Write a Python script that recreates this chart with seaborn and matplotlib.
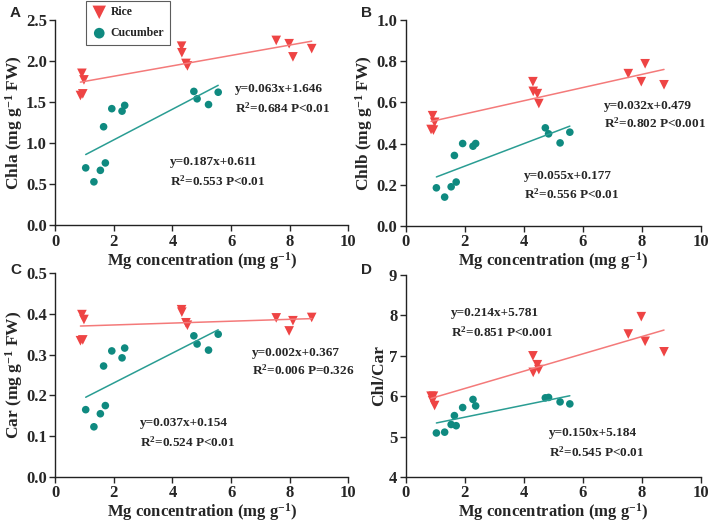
import numpy as np
import pandas as pd
import matplotlib
matplotlib.use("Agg")
import matplotlib.pyplot as plt
import seaborn as sns

sns.set_style("ticks")
plt.rcParams["font.family"] = ["Liberation Serif", "DejaVu Serif"]
plt.rcParams["font.weight"] = "bold"
plt.rcParams["mathtext.fontset"] = "custom"
plt.rcParams["mathtext.rm"] = "Liberation Serif:bold"
plt.rcParams["mathtext.bf"] = "Liberation Serif:bold"
plt.rcParams["mathtext.default"] = "rm"

# Mg concentration (mg g-1) for each sample
rice_mg = [0.86, 0.91, 0.94, 0.98, 4.31, 4.32, 4.46, 4.51, 7.54, 7.98, 8.11, 8.75]
cucumber_mg = [1.04, 1.32, 1.54, 1.65, 1.71, 1.93, 2.28, 2.37, 4.73, 4.84, 5.23, 5.56]

# panel values
rice_chla = [1.58, 1.85, 1.60, 1.77, 2.18, 2.10, 1.97, 1.94, 2.25, 2.21, 2.05, 2.15]
cucumber_chla = [0.70, 0.53, 0.67, 1.20, 0.76, 1.42, 1.39, 1.46, 1.63, 1.54, 1.47, 1.62]
rice_chlb = [0.468, 0.535, 0.465, 0.503, 0.700, 0.653, 0.642, 0.594, 0.739, 0.700, 0.787, 0.685]
cucumber_chlb = [0.185, 0.140, 0.190, 0.342, 0.213, 0.400, 0.387, 0.400, 0.476, 0.447, 0.403, 0.455]
rice_car = [0.334, 0.398, 0.336, 0.386, 0.410, 0.404, 0.378, 0.372, 0.390, 0.358, 0.383, 0.391]
cucumber_car = [0.165, 0.123, 0.155, 0.272, 0.175, 0.309, 0.292, 0.316, 0.346, 0.326, 0.311, 0.350]
rice_ratio = [6.00, 5.89, 6.00, 5.77, 7.00, 6.59, 6.78, 6.66, 7.54, 7.97, 7.36, 7.10]
cucumber_ratio = [5.09, 5.11, 5.30, 5.52, 5.27, 5.72, 5.92, 5.76, 5.96, 5.97, 5.86, 5.81]

rice_eq = ["y=0.063x+1.646", "y=0.032x+0.479", "y=0.002x+0.367", "y=0.214x+5.781"]
rice_r2 = ["R$^2$=0.684 P<0.01", "R$^2$=0.802 P<0.001", "R$^2$=0.006 P=0.326", "R$^2$=0.851 P<0.001"]
cuc_eq = ["y=0.187x+0.611", "y=0.055x+0.177", "y=0.037x+0.154", "y=0.150x+5.184"]
cuc_r2 = ["R$^2$=0.553 P<0.01", "R$^2$=0.556 P<0.01", "R$^2$=0.524 P<0.01", "R$^2$=0.545 P<0.01"]

ylabels = ["Chla (mg g$^{-1}$ FW)", "Chlb (mg g$^{-1}$ FW)", "Car (mg g$^{-1}$ FW)", "Chl/Car"]
ylims = [(0, 2.5), (0, 1.0), (0, 0.5), (4, 9)]
yticks = [np.arange(0, 2.51, 0.5), np.arange(0, 1.01, 0.2), np.arange(0, 0.51, 0.1), np.arange(4, 9.1, 1)]
yfmt = ["{:.1f}", "{:.1f}", "{:.1f}", "{:.0f}"]
letters = ["A", "B", "C", "D"]

# text positions (data coords): x, first line y, second line y
rice_txt = [(6.14, 1.66, 1.42), (6.72, 0.584, 0.497), (6.70, 0.305, 0.261), (1.54, 8.05, 7.59)]
cuc_txt = [(3.92, 0.77, 0.54), (4.01, 0.242, 0.153), (2.90, 0.133, 0.086), (4.85, 5.09, 4.62)]

rice_col = "#ee4444"
rice_line = "#f47a7a"
cuc_col = "#0f8a80"
cuc_line = "#2a9d93"

rice_y = [rice_chla, rice_chlb, rice_car, rice_ratio]
cuc_y = [cucumber_chla, cucumber_chlb, cucumber_car, cucumber_ratio]

fig = plt.figure(figsize=(7.08, 5.23), dpi=100)
rects = [(0.078, 0.569, 0.414, 0.393), (0.573, 0.568, 0.417, 0.394),
         (0.078, 0.088, 0.414, 0.390), (0.573, 0.088, 0.417, 0.386)]
label_pos = [(0.014, 0.988), (0.510, 0.988), (0.014, 0.498), (0.510, 0.498)]

for i in range(4):
    ax = fig.add_axes(rects[i])
    rice = pd.DataFrame({"mg": rice_mg, "val": rice_y[i]})
    cuc = pd.DataFrame({"mg": cucumber_mg, "val": cuc_y[i]})
    sns.regplot(data=rice, x="mg", y="val", ax=ax, ci=None, scatter=False,
                line_kws={"color": rice_line, "lw": 1.1})
    sns.regplot(data=cuc, x="mg", y="val", ax=ax, ci=None, scatter=False,
                line_kws={"color": cuc_line, "lw": 1.1})
    sns.scatterplot(data=rice, x="mg", y="val", ax=ax, marker="v", s=48,
                    color=rice_col, edgecolor="none", label="Rice", legend=False)
    sns.scatterplot(data=cuc, x="mg", y="val", ax=ax, marker="o", s=30,
                    color=cuc_col, edgecolor="none", label="Cucumber", legend=False)

    ax.set_xlim(0, 10)
    ax.set_ylim(*ylims[i])
    ax.set_xticks([0, 2, 4, 6, 8, 10])
    ax.set_yticks(yticks[i])
    ax.set_yticklabels([yfmt[i].format(v) for v in yticks[i]])
    ax.tick_params(labelsize=12, width=1, length=4, direction="out", pad=2)
    for lab in ax.get_xticklabels() + ax.get_yticklabels():
        lab.set_fontweight("bold")
    sns.despine(ax=ax)
    for s in ["left", "bottom"]:
        ax.spines[s].set_linewidth(1)
        ax.spines[s].set_color("#222222")
    ax.set_xlabel("Mg concentration (mg g$^{-1}$)", fontsize=12, fontweight="bold", labelpad=0)
    ax.set_ylabel(ylabels[i], fontsize=12.5, fontweight="bold", labelpad=1)

    tx, ty1, ty2 = rice_txt[i]
    ax.text(tx, ty1, rice_eq[i], fontsize=9.5, fontweight="bold", va="center")
    ax.text(tx, ty2, rice_r2[i], fontsize=9.5, fontweight="bold", va="center")
    tx, ty1, ty2 = cuc_txt[i]
    ax.text(tx, ty1, cuc_eq[i], fontsize=9.5, fontweight="bold", va="center")
    ax.text(tx, ty2, cuc_r2[i], fontsize=9.5, fontweight="bold", va="center")

    fig.text(label_pos[i][0], label_pos[i][1], letters[i], fontsize=11,
             fontweight="bold", family="Liberation Sans", va="top")

    if i == 0:
        leg = ax.legend(loc="upper left", bbox_to_anchor=(0.121, 0.999),
                        bbox_transform=fig.transFigure, frameon=True,
                        fancybox=False, prop={"size": 8.5, "weight": "bold"},
                        borderpad=0.5, labelspacing=0.75, handletextpad=0.3,
                        handlelength=1.3, markerscale=1.4, borderaxespad=0)
        leg.get_frame().set_edgecolor("#333333")
        leg.get_frame().set_linewidth(0.8)

fig.savefig("out.png", dpi=100)
